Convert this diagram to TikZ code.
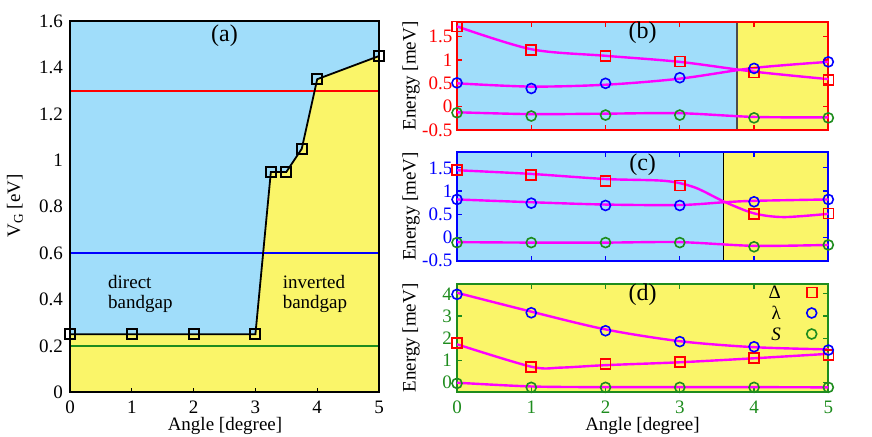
\documentclass[tikz,border=0pt]{standalone}
\usepackage{fontspec}
\setmainfont{Liberation Serif}
\definecolor{gapblue}{RGB}{160,221,250}
\definecolor{gapyellow}{RGB}{250,245,105}
\definecolor{fitmag}{RGB}{255,0,255}
\definecolor{dgreen}{RGB}{30,140,30}
\tikzset{
  lbl/.style={font=\fontsize{19}{20.5}\selectfont, inner sep=0pt},
  panel/.style={font=\fontsize{24}{26}\selectfont},
  sqmark/.style={draw, rectangle, minimum size=10pt, inner sep=0pt, line width=1.6pt},
  cimark/.style={draw, circle, minimum size=10pt, inner sep=0pt, line width=1.6pt},
  fitline/.style={fitmag, line width=2.4pt},
  hline/.style={line width=1.5pt},
  tck/.style={line width=1.2pt},
}

\begin{document}
\begin{tikzpicture}[x=1pt,y=1pt]
\useasboundingbox (0,0) rectangle (872,436);
% (a) gate voltage vs angle
\begin{scope}[shift={(70,43.7)},x=61.8pt,y=231.9pt]
  \foreach \x/\y [count=\i] in {0/0.25,1/0.25,2/0.25,3/0.25,3.25/0.95,3.5/0.95,3.75/1.05,4/1.35,5/1.45}
    \coordinate (vg\i) at (\x,\y);
  \fill[gapblue] (0,0) rectangle (5,1.6);
  \fill[gapyellow] (0,0) -- (vg1) -- (vg2) -- (vg3) -- (vg4) -- (vg5) -- (vg6) -- (vg7) -- (vg8) -- (vg9) -- (5,0) -- cycle;
  \draw[red, hline] (0,1.3) -- (5,1.3);
  \draw[blue, hline] (0,0.6) -- (5,0.6);
  \draw[dgreen, hline] (0,0.2) -- (5,0.2);
  \draw[line width=1.8pt] (vg1) -- (vg2) -- (vg3) -- (vg4) -- (vg5) -- (vg6) -- (vg7) -- (vg8) -- (vg9);
  \foreach \x in {0,...,5} {
    \draw[tck] (\x,0) -- ++(0,4pt);
    \node[lbl, yshift=-14.7pt] (ax\x) at (\x,0) {\x};
  }
  \foreach \y [count=\i] in {0,0.2,0.4,0.6,0.8,1,1.2,1.4,1.6}
    \node[lbl, anchor=east, xshift=-7pt] (ay\i) at (0,\y) {\y};
  \draw[line width=2pt] (0,0) rectangle (5,1.6);
  \foreach \i in {1,...,9}
    \node[sqmark, line width=2pt] (vgm\i) at (vg\i) {};
  \node[panel] (pa) at (2.5,1.536) {(a)};
  \node[lbl, align=left, anchor=west] (direct) at (0.615,0.425) {direct\\bandgap};
  \node[lbl, align=left, anchor=west] (inverted) at (3.44,0.425) {inverted\\bandgap};
\end{scope}
\node[lbl, rotate=90] (vglab) at (15,230) {V\textsubscript{G} [eV]};
\node[lbl] (anglea) at (225,10.5) {Angle [degree]};

% (b)
\begin{scope}[shift={(457,329.33)},x=74.26pt,y=46.67pt]
  \fill[gapblue] (0,-0.5) rectangle (3.77,1.81);
  \fill[gapyellow] (3.77,-0.5) rectangle (5,1.81);
  \draw[black!70, line width=1.2pt] (3.77,-0.5) -- (3.77,1.81);
  \foreach \x in {0,...,5} {
    \draw[red, tck] (\x,-0.5) -- ++(0,5pt);
    \draw[red, tck] (\x,1.81) -- ++(0,-5pt);
  }
  \foreach \y [count=\i] in {-0.5,0,0.5,1,1.5} {
    \draw[red, tck] (0,\y) -- ++(5pt,0);
    \draw[red, tck] (5,\y) -- ++(-5pt,0);
    \node[lbl, red, anchor=east, xshift=-4.5pt] (by\i) at (0,\y) {\y};
  }
  \draw[red, line width=2pt] (0,-0.5) rectangle (5,1.81);
  \draw[fitline] plot[smooth] coordinates {(0,1.72) (1,1.23) (2,1.09) (3,0.96) (4,0.75) (5,0.59)};
  \draw[fitline] plot[smooth] coordinates {(0,0.50) (1,0.43) (2,0.47) (3,0.60) (4,0.83) (5,0.96)};
  \draw[fitline] plot[smooth] coordinates {(0,-0.12) (1,-0.16) (2,-0.15) (3,-0.14) (4,-0.22) (5,-0.23)};
  \foreach \y [count=\i from 0] in {1.72,1.22,1.08,0.97,0.73,0.57}
    \node[sqmark, red] (bD\i) at (\i,\y) {};
  \foreach \y [count=\i from 0] in {0.51,0.39,0.50,0.62,0.82,0.96}
    \node[cimark, blue] (bL\i) at (\i,\y) {};
  \foreach \y [count=\i from 0] in {-0.13,-0.20,-0.18,-0.18,-0.24,-0.24}
    \node[cimark, dgreen] (bS\i) at (\i,\y) {};
  \node[panel] (pb) at (2.5,1.58) {(b)};
\end{scope}
\node[lbl, rotate=90] (eb) at (411,360) {Energy [meV]};

% (c)
\begin{scope}[shift={(457,198.5)},x=74.26pt,y=46.4pt]
  \fill[gapblue] (0,-0.5) rectangle (3.59,1.84);
  \fill[gapyellow] (3.59,-0.5) rectangle (5,1.84);
  \draw[line width=1.2pt] (3.59,-0.5) -- (3.59,1.84);
  \foreach \x in {0,...,5} {
    \draw[blue, tck] (\x,-0.5) -- ++(0,5pt);
    \draw[blue, tck] (\x,1.84) -- ++(0,-5pt);
  }
  \foreach \y [count=\i] in {-0.5,0,0.5,1,1.5} {
    \draw[blue, tck] (0,\y) -- ++(5pt,0);
    \draw[blue, tck] (5,\y) -- ++(-5pt,0);
    \node[lbl, blue, anchor=east, xshift=-4.5pt] (cy\i) at (0,\y) {\y};
  }
  \draw[blue, line width=2pt] (0,-0.5) rectangle (5,1.84);
  \draw[fitline] plot[smooth] coordinates {(0,1.45) (1,1.37) (2,1.26) (2.8,1.22) (3.2,1.08) (3.6,0.77) (4,0.52) (4.4,0.44) (5,0.51)};
  \draw[fitline] plot[smooth] coordinates {(0,0.82) (1,0.76) (2,0.71) (3,0.70) (3.6,0.76) (4,0.79) (5,0.82)};
  \draw[fitline] plot[smooth] coordinates {(0,-0.10) (1,-0.11) (2,-0.11) (3,-0.10) (4,-0.18) (5,-0.16)};
  \foreach \y [count=\i from 0] in {1.45,1.35,1.22,1.12,0.51,0.52}
    \node[sqmark, red] (cD\i) at (\i,\y) {};
  \foreach \y [count=\i from 0] in {0.82,0.74,0.69,0.69,0.77,0.82}
    \node[cimark, blue] (cL\i) at (\i,\y) {};
  \foreach \y [count=\i from 0] in {-0.11,-0.11,-0.11,-0.11,-0.20,-0.16}
    \node[cimark, dgreen] (cS\i) at (\i,\y) {};
  \node[panel] (pc) at (2.5,1.57) {(c)};
\end{scope}
\node[lbl, rotate=90] (ec) at (411,229.5) {Energy [meV]};

% (d)
\begin{scope}[shift={(457,53.3)},x=74.26pt,y=22.2pt]
  \fill[gapyellow] (0,-0.44) rectangle (5,4.45);
  \foreach \x in {0,...,5} {
    \draw[dgreen, tck] (\x,-0.44) -- ++(0,5pt);
    \draw[dgreen, tck] (\x,4.45) -- ++(0,-5pt);
    \node[lbl, dgreen, yshift=-14.5pt] (dx\x) at (\x,-0.44) {\x};
  }
  \foreach \y in {0,...,4} {
    \draw[dgreen, tck] (0,\y) -- ++(5pt,0);
    \draw[dgreen, tck] (5,\y) -- ++(-5pt,0);
    \node[lbl, dgreen, anchor=east, xshift=-5pt] (dy\y) at (0,\y) {\y};
  }
  \draw[dgreen, line width=2pt] (0,-0.44) rectangle (5,4.45);
  \draw[fitline] plot[smooth] coordinates {(0,4.05) (1,3.2) (2,2.4) (3,1.87) (4,1.6) (5,1.5)};
  \draw[fitline] plot[smooth] coordinates {(0,1.73) (1,0.72) (1.4,0.68) (2,0.79) (3,0.92) (4,1.1) (5,1.3)};
  \draw[fitline] plot[smooth] coordinates {(0,0) (1,-0.17) (2,-0.2) (3,-0.2) (4,-0.2) (5,-0.21)};
  \foreach \y [count=\i from 0] in {1.8,0.72,0.83,0.93,1.11,1.25}
    \node[sqmark, red] (dD\i) at (\i,\y) {};
  \foreach \y [count=\i from 0] in {3.98,3.15,2.34,1.85,1.62,1.47}
    \node[cimark, blue] (dL\i) at (\i,\y) {};
  \foreach \y [count=\i from 0] in {-0.03,-0.21,-0.21,-0.21,-0.21,-0.21}
    \node[cimark, dgreen] (dS\i) at (\i,\y) {};
  \node[panel] (pd) at (2.5,3.95) {(d)};
\end{scope}
\node[lbl, rotate=90] (ed) at (411,98) {Energy [meV]};
\node[lbl] (angled) at (642.5,10.5) {Angle [degree]};
% legend
\node[lbl, anchor=east] (kD) at (781,143.5) {Δ};
\node[lbl, anchor=east] (kL) at (781,123) {λ};
\node[lbl, anchor=east] (kS) at (781,102) {\textit{S}};
\node[sqmark, red] (mD) at (811.7,143.5) {};
\node[cimark, blue] (mL) at (811.7,123) {};
\node[cimark, dgreen] (mS) at (811.7,102) {};
\end{tikzpicture}
\end{document}
